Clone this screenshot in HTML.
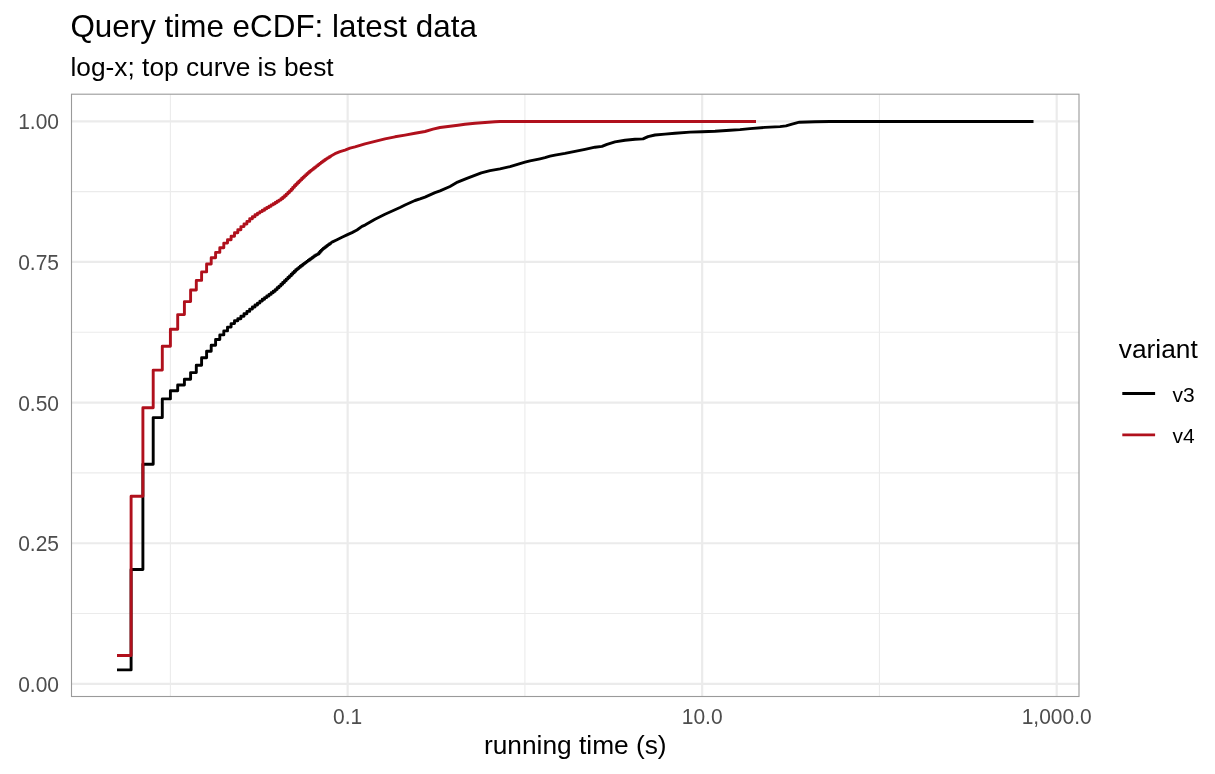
<!DOCTYPE html>
<html><head><meta charset="utf-8"><title>Query time eCDF</title>
<style>html,body{margin:0;padding:0;background:#fff;overflow:hidden}svg{display:block}</style>
</head><body>
<svg width="1215" height="774" viewBox="0 0 1215 774">
<rect x="0" y="0" width="1215" height="774" fill="#fff"/>
<line x1="71.5" x2="1079.0" y1="613.57" y2="613.57" stroke="#ebebeb" stroke-width="1.1"/>
<line x1="71.5" x2="1079.0" y1="472.92" y2="472.92" stroke="#ebebeb" stroke-width="1.1"/>
<line x1="71.5" x2="1079.0" y1="332.27" y2="332.27" stroke="#ebebeb" stroke-width="1.1"/>
<line x1="71.5" x2="1079.0" y1="191.62" y2="191.62" stroke="#ebebeb" stroke-width="1.1"/>
<line y1="94.2" y2="696.5" x1="170.40" x2="170.40" stroke="#ebebeb" stroke-width="1.1"/>
<line y1="94.2" y2="696.5" x1="524.92" x2="524.92" stroke="#ebebeb" stroke-width="1.1"/>
<line y1="94.2" y2="696.5" x1="879.44" x2="879.44" stroke="#ebebeb" stroke-width="1.1"/>
<line x1="71.5" x2="1079.0" y1="683.90" y2="683.90" stroke="#ebebeb" stroke-width="2.2"/>
<line x1="71.5" x2="1079.0" y1="543.25" y2="543.25" stroke="#ebebeb" stroke-width="2.2"/>
<line x1="71.5" x2="1079.0" y1="402.60" y2="402.60" stroke="#ebebeb" stroke-width="2.2"/>
<line x1="71.5" x2="1079.0" y1="261.95" y2="261.95" stroke="#ebebeb" stroke-width="2.2"/>
<line x1="71.5" x2="1079.0" y1="121.30" y2="121.30" stroke="#ebebeb" stroke-width="2.2"/>
<line y1="94.2" y2="696.5" x1="347.66" x2="347.66" stroke="#ebebeb" stroke-width="2.2"/>
<line y1="94.2" y2="696.5" x1="702.18" x2="702.18" stroke="#ebebeb" stroke-width="2.2"/>
<line y1="94.2" y2="696.5" x1="1056.70" x2="1056.70" stroke="#ebebeb" stroke-width="2.2"/>
<path d="M117.0,669.9 L131.1,669.9 L131.1,569.5 L142.9,569.5 L142.9,464.3 L153.2,464.3 L153.2,417.6 L162.3,417.6 L162.3,398.9 L170.4,398.9 L170.4,390.8 L177.7,390.8 L177.7,385.0 L184.4,385.0 L184.4,379.3 L190.6,379.3 L190.6,372.6 L196.3,372.6 L196.3,365.2 L201.6,365.2 L201.6,357.8 L206.6,357.8 L206.6,351.2 L211.2,351.2 L211.2,345.2 L215.6,345.2 L215.6,339.5 L219.8,339.5 L219.8,334.9 L223.8,334.9 L223.8,330.9 L227.5,330.9 L227.5,327.1 L231.1,327.1 L231.1,323.6 L234.5,323.6 L234.5,320.7 L237.8,320.7 L237.8,318.7 L240.9,318.7 L240.9,316.2 L244.0,316.2 L244.0,313.8 L246.9,313.8 L246.9,311.4 L249.7,311.4 L249.7,309.1 L252.4,309.1 L252.4,307.0 L255.0,307.0 L255.0,305.0 L257.5,305.0 L257.5,303.1 L259.9,303.1 L259.9,301.1 L262.3,301.1 L262.3,299.3 L264.6,299.3 L264.6,297.6 L266.8,297.6 L266.8,296.0 L269.0,296.0 L269.0,294.4 L271.1,294.4 L271.1,292.8 L273.2,292.8 L273.2,291.2 L275.2,291.2 L275.2,289.6 L277.1,289.6 L277.1,287.8 L279.0,287.8 L279.0,286.1 L280.9,286.1 L280.9,284.3 L282.7,284.3 L282.7,282.5 L284.5,282.5 L284.5,280.7 L286.2,280.7 L286.2,279.1 L287.9,279.1 L287.9,277.5 L289.5,277.5 L289.5,275.9 L291.2,275.9 L291.2,274.3 L292.7,274.3 L292.7,272.8 L294.3,272.8 L294.3,271.2 L295.8,271.2 L295.8,269.8 L297.3,269.8 L297.3,268.6 L298.8,268.6 L298.8,267.4 L300.2,267.4 L300.2,266.2 L301.6,266.2 L301.6,265.2 L303.0,265.2 L303.0,264.1 L304.4,264.1 L304.4,263.1 L305.7,263.1 L305.7,262.1 L307.0,262.1 L307.0,261.1 L308.3,261.1 L308.3,260.2 L309.6,260.2 L309.6,259.3 L310.9,259.3 L310.9,258.4 L312.1,258.4 L312.1,257.5 L313.3,257.5 L313.3,256.6 L314.5,256.6 L314.5,255.7 L315.7,255.7 L315.7,255.0 L316.8,255.0 L316.8,254.4 L318.0,254.4 L318.0,253.8 L319.1,253.8 L319.1,252.5 L320.2,252.5 L320.2,251.3 L321.3,251.3 L321.3,250.1 L322.4,250.1 L322.4,249.1 L323.4,249.1 L323.4,248.3 L324.5,248.3 L324.5,247.5 L325.5,247.5 L325.5,246.7 L326.5,246.7 L326.5,245.9 L327.5,245.9 L327.5,245.1 L328.5,245.1 L328.5,244.5 L329.5,244.5 L329.5,243.8 L330.5,243.8 L330.5,243.1 L332.0,242.1 L337.0,239.7 L342.0,237.2 L347.0,234.9 L352.0,232.6 L357.0,230.0 L362.0,226.4 L365.0,225.1 L375.0,219.2 L385.0,214.2 L395.0,209.7 L400.0,207.5 L405.0,205.0 L415.0,200.5 L420.0,198.9 L425.0,197.1 L435.0,192.7 L440.0,190.9 L450.0,186.5 L457.6,182.1 L466.9,178.3 L481.3,172.8 L490.0,170.6 L500.0,168.9 L510.0,166.6 L520.0,163.6 L525.0,162.2 L530.0,160.9 L540.0,158.8 L545.0,157.7 L550.0,156.2 L555.0,155.2 L565.0,153.4 L575.0,151.3 L585.0,149.3 L595.0,147.2 L602.0,146.4 L607.0,144.3 L615.0,141.9 L625.0,140.2 L635.0,139.2 L643.0,138.9 L648.0,136.6 L655.0,135.0 L665.0,134.1 L675.0,133.3 L690.0,132.1 L702.0,131.7 L715.0,131.3 L730.0,130.2 L740.0,129.6 L750.0,128.6 L765.0,127.4 L780.0,126.6 L786.0,125.9 L792.0,124.1 L799.4,122.2 L815.0,121.7 L830.0,121.5 L1033.5,121.5" fill="none" stroke="#000" stroke-width="2.9" stroke-linejoin="round" stroke-linecap="butt"/>
<path d="M117.0,655.5 L131.1,655.5 L131.1,496.2 L142.9,496.2 L142.9,407.8 L153.2,407.8 L153.2,370.1 L162.3,370.1 L162.3,346.3 L170.4,346.3 L170.4,329.2 L177.7,329.2 L177.7,314.6 L184.4,314.6 L184.4,301.6 L190.6,301.6 L190.6,290.0 L196.3,290.0 L196.3,280.4 L201.6,280.4 L201.6,271.9 L206.6,271.9 L206.6,264.0 L211.2,264.0 L211.2,257.8 L215.6,257.8 L215.6,252.4 L219.8,252.4 L219.8,247.8 L223.8,247.8 L223.8,243.1 L227.5,243.1 L227.5,239.7 L231.1,239.7 L231.1,236.2 L234.5,236.2 L234.5,232.8 L237.8,232.8 L237.8,229.7 L240.9,229.7 L240.9,226.6 L244.0,226.6 L244.0,224.0 L246.9,224.0 L246.9,221.4 L249.7,221.4 L249.7,218.8 L252.4,218.8 L252.4,216.7 L255.0,216.7 L255.0,214.7 L257.5,214.7 L257.5,213.1 L259.9,213.1 L259.9,211.6 L262.3,211.6 L262.3,210.2 L264.6,210.2 L264.6,208.8 L266.8,208.8 L266.8,207.5 L269.0,207.5 L269.0,206.2 L271.1,206.2 L271.1,204.9 L273.2,204.9 L273.2,203.7 L275.2,203.7 L275.2,202.5 L277.1,202.5 L277.1,201.3 L279.0,201.3 L279.0,200.1 L280.9,200.1 L280.9,198.7 L282.7,198.7 L282.7,197.2 L284.5,197.2 L284.5,195.7 L286.2,195.7 L286.2,194.1 L287.9,194.1 L287.9,192.5 L289.5,192.5 L289.5,190.9 L291.2,190.9 L291.2,189.2 L292.7,189.2 L292.7,187.4 L294.3,187.4 L294.3,185.8 L295.8,185.8 L295.8,184.2 L297.3,184.2 L297.3,182.7 L298.8,182.7 L298.8,181.3 L300.2,181.3 L300.2,179.9 L301.6,179.9 L301.6,178.5 L303.0,178.5 L303.0,177.2 L304.4,177.2 L304.4,175.9 L305.7,175.9 L305.7,174.7 L307.0,174.7 L307.0,173.5 L308.3,173.5 L308.3,172.4 L309.6,172.4 L309.6,171.3 L310.9,171.3 L310.9,170.3 L312.1,170.3 L312.1,169.4 L313.3,169.4 L313.3,168.4 L314.5,168.4 L314.5,167.5 L315.7,167.5 L315.7,166.6 L316.8,166.6 L316.8,165.7 L318.0,165.7 L318.0,164.8 L319.1,164.8 L319.1,163.9 L320.2,163.9 L320.2,163.1 L321.3,163.1 L321.3,162.3 L322.4,162.3 L322.4,161.5 L323.4,161.5 L323.4,160.7 L324.5,160.7 L324.5,160.0 L325.5,160.0 L325.5,159.3 L326.5,159.3 L326.5,158.6 L327.5,158.6 L327.5,158.0 L328.5,158.0 L328.5,157.4 L329.5,157.4 L329.5,156.8 L330.5,156.8 L330.5,156.2 L335.0,153.7 L340.0,151.6 L345.0,150.1 L350.0,148.2 L355.0,146.9 L365.0,143.8 L375.0,141.4 L385.0,138.9 L395.0,136.8 L405.0,135.1 L415.0,133.3 L425.0,131.5 L433.0,129.2 L440.0,127.5 L450.0,126.3 L458.0,125.2 L465.0,124.2 L475.0,123.2 L485.0,122.5 L495.0,121.8 L500.0,121.5 L756.0,121.5" fill="none" stroke="#b0101c" stroke-width="2.9" stroke-linejoin="round" stroke-linecap="butt"/>
<rect x="71.5" y="94.2" width="1007.5" height="602.3" fill="none" stroke="#9a9a9a" stroke-width="1.1"/>
<g font-family='"Liberation Sans", sans-serif'><text x="70.4" y="37.3" font-size="31.4" fill="#000">Query time eCDF: latest data</text><text x="70.5" y="76.2" font-size="26.3" fill="#000">log-x; top curve is best</text><text x="59" y="691.9" font-size="22.5" fill="#4d4d4d" text-anchor="end" transform="translate(59,691.9) scale(0.933,1) translate(-59,-691.9)">0.00</text><text x="59" y="551.2" font-size="22.5" fill="#4d4d4d" text-anchor="end" transform="translate(59,551.2) scale(0.933,1) translate(-59,-551.2)">0.25</text><text x="59" y="410.6" font-size="22.5" fill="#4d4d4d" text-anchor="end" transform="translate(59,410.6) scale(0.933,1) translate(-59,-410.6)">0.50</text><text x="59" y="269.9" font-size="22.5" fill="#4d4d4d" text-anchor="end" transform="translate(59,269.9) scale(0.933,1) translate(-59,-269.9)">0.75</text><text x="59" y="129.3" font-size="22.5" fill="#4d4d4d" text-anchor="end" transform="translate(59,129.3) scale(0.933,1) translate(-59,-129.3)">1.00</text><text x="347.7" y="724.1" font-size="22.5" fill="#4d4d4d" text-anchor="middle" transform="translate(347.7,724.1) scale(0.933,1) translate(-347.7,-724.1)">0.1</text><text x="702.2" y="724.1" font-size="22.5" fill="#4d4d4d" text-anchor="middle" transform="translate(702.2,724.1) scale(0.933,1) translate(-702.2,-724.1)">10.0</text><text x="1056.7" y="724.1" font-size="22.5" fill="#4d4d4d" text-anchor="middle" transform="translate(1056.7,724.1) scale(0.933,1) translate(-1056.7,-724.1)">1,000.0</text><text x="575.3" y="753.8" font-size="26.3" fill="#000" text-anchor="middle">running time (s)</text><text x="1118.8" y="357.9" font-size="26.3" fill="#000">variant</text><text x="1172.5" y="402.0" font-size="21" fill="#000">v3</text><text x="1172.5" y="442.7" font-size="21" fill="#000">v4</text></g>
<line x1="1122.3" x2="1155.1" y1="393.5" y2="393.5" stroke="#000" stroke-width="2.9"/>
<line x1="1122.3" x2="1155.1" y1="434.9" y2="434.9" stroke="#b0101c" stroke-width="2.9"/>
</svg>
</body></html>
